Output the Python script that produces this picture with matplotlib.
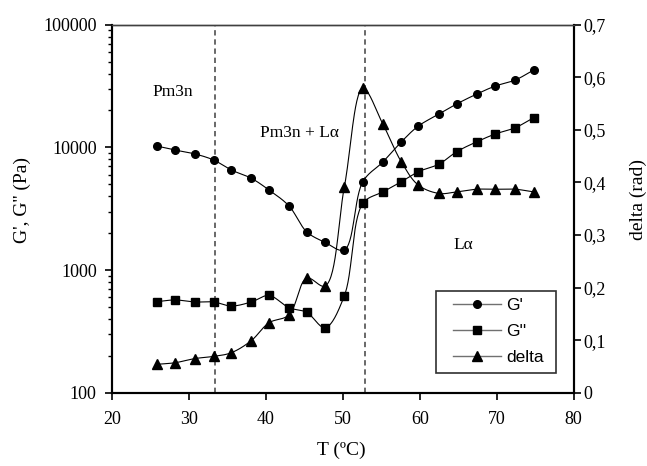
import matplotlib
matplotlib.use("Agg")
import matplotlib.pyplot as plt
import numpy as np
from matplotlib.patches import Rectangle
from matplotlib.ticker import FixedLocator, FuncFormatter, LogLocator, NullFormatter

plt.rcParams['font.family'] = ['Liberation Serif', 'DejaVu Serif']

# temperature sweep (ºC) and the three measured quantities
temp = [25.8, 28.2, 30.8, 33.2, 35.5, 38.1, 40.4, 43.0, 45.3, 47.7, 50.2,
        52.6, 55.2, 57.6, 59.8, 62.5, 64.8, 67.4, 69.8, 72.4, 74.8]
g_storage = [10260, 9510, 8830, 7890, 6540, 5600, 4490, 3330, 2050, 1680, 1460,
             5250, 7600, 11100, 14900, 18700, 22600, 27200, 31600, 35400, 42700]
g_loss = [552, 570, 549, 549, 509, 549, 620, 493, 452, 339, 618,
          3490, 4330, 5250, 6330, 7310, 9220, 11100, 12850, 14460, 17450]
delta = [0.054, 0.057, 0.065, 0.069, 0.076, 0.099, 0.133, 0.148, 0.218, 0.203, 0.392,
         0.579, 0.511, 0.439, 0.395, 0.379, 0.382, 0.387, 0.387, 0.387, 0.382]

# phase boundaries and labels
boundaries = [33.4, 52.85]
phase_labels = ["Pm3n", "Pm3n + L\u03b1", "L\u03b1"]
phase_label_pos = [(0.132, 0.817), (0.405, 0.706), (0.760, 0.401)]

AX_W, AX_H = 461.7, 368.0  # axes size in pixels, used to scale the spline


def smooth(x, y, xspan, yspan, n=30, alpha=0.5):
    # centripetal Catmull-Rom through the points, in screen-like units
    pts = np.column_stack([np.asarray(x, float) / xspan * AX_W,
                           np.asarray(y, float) / yspan * AX_H])
    p = np.vstack([2 * pts[0] - pts[1], pts, 2 * pts[-1] - pts[-2]])
    out = []
    for i in range(1, len(p) - 2):
        p0, p1, p2, p3 = p[i - 1], p[i], p[i + 1], p[i + 2]
        t0 = 0.0
        t1 = t0 + np.linalg.norm(p1 - p0) ** alpha
        t2 = t1 + np.linalg.norm(p2 - p1) ** alpha
        t3 = t2 + np.linalg.norm(p3 - p2) ** alpha
        t = np.linspace(t1, t2, n, endpoint=False)[:, None]
        a1 = (t1 - t) / (t1 - t0) * p0 + (t - t0) / (t1 - t0) * p1
        a2 = (t2 - t) / (t2 - t1) * p1 + (t - t1) / (t2 - t1) * p2
        a3 = (t3 - t) / (t3 - t2) * p2 + (t - t2) / (t3 - t2) * p3
        b1 = (t2 - t) / (t2 - t0) * a1 + (t - t0) / (t2 - t0) * a2
        b2 = (t3 - t) / (t3 - t1) * a2 + (t - t1) / (t3 - t1) * a3
        out.append((t2 - t) / (t2 - t1) * b1 + (t - t1) / (t2 - t1) * b2)
    out.append(pts[-1:])
    out = np.vstack(out)
    return out[:, 0] / AX_W * xspan, out[:, 1] / AX_H * yspan


fig = plt.figure(figsize=(6.47, 4.66), dpi=100)
ax = fig.add_axes([0.1731, 0.1573, 0.7136, 0.7897])
ax2 = ax.twinx()

# smoothed lines (log space for the moduli)
sx, sy = smooth(temp, np.log10(g_storage), 60, 3)
ax.plot(sx, 10 ** sy, color='black', lw=0.8)
sx, sy = smooth(temp, np.log10(g_loss), 60, 3)
ax.plot(sx, 10 ** sy, color='black', lw=0.8)
sx, sy = smooth(temp, delta, 60, 0.7)
ax2.plot(sx, sy, color='black', lw=0.8)

ax.plot(temp, g_storage, 'o', color='black', ms=5.5, zorder=3)
ax.plot(temp, g_loss, 's', color='black', ms=5.3, zorder=3)
ax2.plot(temp, delta, '^', color='black', ms=6.5, zorder=3)

for b in boundaries:
    ax.axvline(b, color='#404040', lw=1.1, ls=(0, (3.5, 2.5)), zorder=1)

for text, (px, py) in zip(phase_labels, phase_label_pos):
    ax.text(px, py, text, transform=ax.transAxes, fontsize=12.5,
            ha='center', va='center')

ax.set_xlim(20, 80)
ax.set_yscale('log')
ax.set_ylim(100, 100000)
ax2.set_ylim(0, 0.7)

ax.xaxis.set_major_locator(FixedLocator([20, 30, 40, 50, 60, 70, 80]))
ax.yaxis.set_major_locator(LogLocator(base=10, numticks=10))
ax.yaxis.set_minor_locator(LogLocator(base=10, subs=np.arange(2, 10), numticks=10))
ax.yaxis.set_minor_formatter(NullFormatter())
ax.yaxis.set_major_formatter(FuncFormatter(lambda v, p: f"{v:.0f}"))
ax2.yaxis.set_major_locator(FixedLocator(np.arange(0, 0.71, 0.1)))
ax2.yaxis.set_major_formatter(
    FuncFormatter(lambda v, p: f"{v:.1f}".replace('.', ',') if v > 0.001 else "0"))

ax.tick_params(axis='both', which='major', direction='out', length=5, width=1.2,
               labelsize=13, top=False)
ax.tick_params(axis='x', pad=8)
ax.tick_params(axis='y', which='major', pad=6)
ax.tick_params(axis='y', which='minor', direction='out', length=3, width=1)
ax2.tick_params(axis='y', direction='out', length=5, width=1.2, labelsize=13, pad=2)

for a in (ax, ax2):
    for side in ('left', 'bottom', 'right'):
        a.spines[side].set_linewidth(1.5)
    a.spines['top'].set_linewidth(1.0)
    a.spines['top'].set_color('#404040')

ax.set_xlabel("T (\u00baC)", fontsize=14, va='center')
ax.xaxis.set_label_coords(0.496, -0.156)
ax.set_ylabel("G', G'' (Pa)", fontsize=14, va='center')
ax.yaxis.set_label_coords(-0.195, 0.524)
ax2.set_ylabel("delta (rad)", fontsize=14, va='center')
ax2.yaxis.set_label_coords(1.139, 0.526)

# legend entries: grey line with black marker, in a plain box
handles = [
    plt.Line2D([], [], color='#707070', lw=1, marker=m, mfc='black', mec='black', ms=s)
    for m, s in (('o', 5.5), ('s', 5.3), ('^', 6.5))
]
ax2.add_patch(Rectangle((0.701, 0.054), 0.2605, 0.223, transform=ax2.transAxes,
                        facecolor='white', edgecolor='#303030', lw=1.2, zorder=4))
leg = ax2.legend(handles, ["G'", "G''", "delta"], loc='upper left',
                 bbox_to_anchor=(0.7386, 0.2573), frameon=False,
                 prop={'family': 'Liberation Sans', 'size': 12.5},
                 handlelength=2.75, handletextpad=0.3, labelspacing=0.62,
                 borderpad=0, borderaxespad=0)
leg.set_zorder(5)

fig.savefig("out.png", dpi=100)
